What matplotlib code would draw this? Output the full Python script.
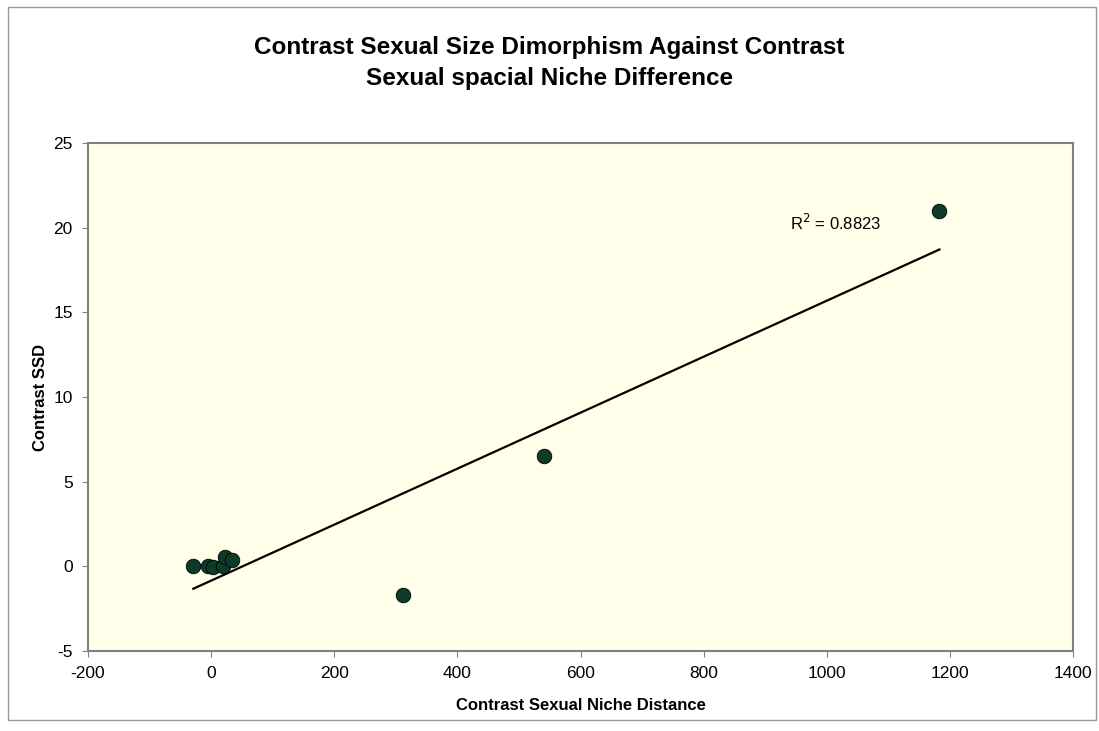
import numpy as np
import matplotlib
matplotlib.use("Agg")
import matplotlib.pyplot as plt
from matplotlib.patches import Rectangle

plt.rcParams['font.family'] = ['Liberation Sans', 'DejaVu Sans']
plt.rcParams['axes.unicode_minus'] = False

# Contrast values (sexual niche distance vs. sexual size dimorphism)
niche_distance = [-29, -5, 3, 20, 23, 34, 311, 540, 1183]
ssd_contrast = [0.05, 0.05, -0.05, 0.05, 0.55, 0.35, -1.7, 6.5, 21.0]
r2_label = "R$^2$ = 0.8823"

x_ticks = [-200, 0, 200, 400, 600, 800, 1000, 1200, 1400]
y_ticks = [-5, 0, 5, 10, 15, 20, 25]

fig = plt.figure(figsize=(10.99, 7.31), dpi=100)
fig.patch.set_facecolor('white')

# outer chart frame
fig.add_artist(Rectangle((0.007, 0.015), 0.99, 0.975, transform=fig.transFigure,
                         fill=False, edgecolor='#9a9a9a', linewidth=1.0))

ax = fig.add_axes([0.0801, 0.1094, 0.8963, 0.695])
ax.set_facecolor('#FFFFEA')

x = np.array(niche_distance, dtype=float)
y = np.array(ssd_contrast, dtype=float)

# linear trend line over the data range
slope, intercept = np.polyfit(x, y, 1)
xl = np.array([x.min(), x.max()])
ax.plot(xl, slope * xl + intercept, color='black', linewidth=1.6, zorder=2)

ax.scatter(x, y, s=110, color='#0D3B27', edgecolor='black', linewidth=0.6, zorder=3)

ax.text(940, 20.3, r2_label, fontsize=12, ha='left', va='center')

ax.set_xlim(-200, 1400)
ax.set_ylim(-5, 25)
ax.set_xticks(x_ticks)
ax.set_yticks(y_ticks)
ax.tick_params(axis='both', labelsize=12.5, direction='out', length=4,
               color='#808080', pad=7)

for side in ['left', 'bottom', 'right', 'top']:
    ax.spines[side].set_color('#808080')
    ax.spines[side].set_linewidth(1.5)

ax.set_xlabel('Contrast Sexual Niche Distance', fontsize=12, fontweight='bold', labelpad=12)
ax.set_ylabel('Contrast SSD', fontsize=12, fontweight='bold', labelpad=4)

fig.text(0.5, 0.914, 'Contrast Sexual Size Dimorphism Against Contrast\nSexual spacial Niche Difference',
         ha='center', va='center', fontsize=17.5, fontweight='bold', linespacing=1.45)

fig.savefig('out.png', dpi=100)
